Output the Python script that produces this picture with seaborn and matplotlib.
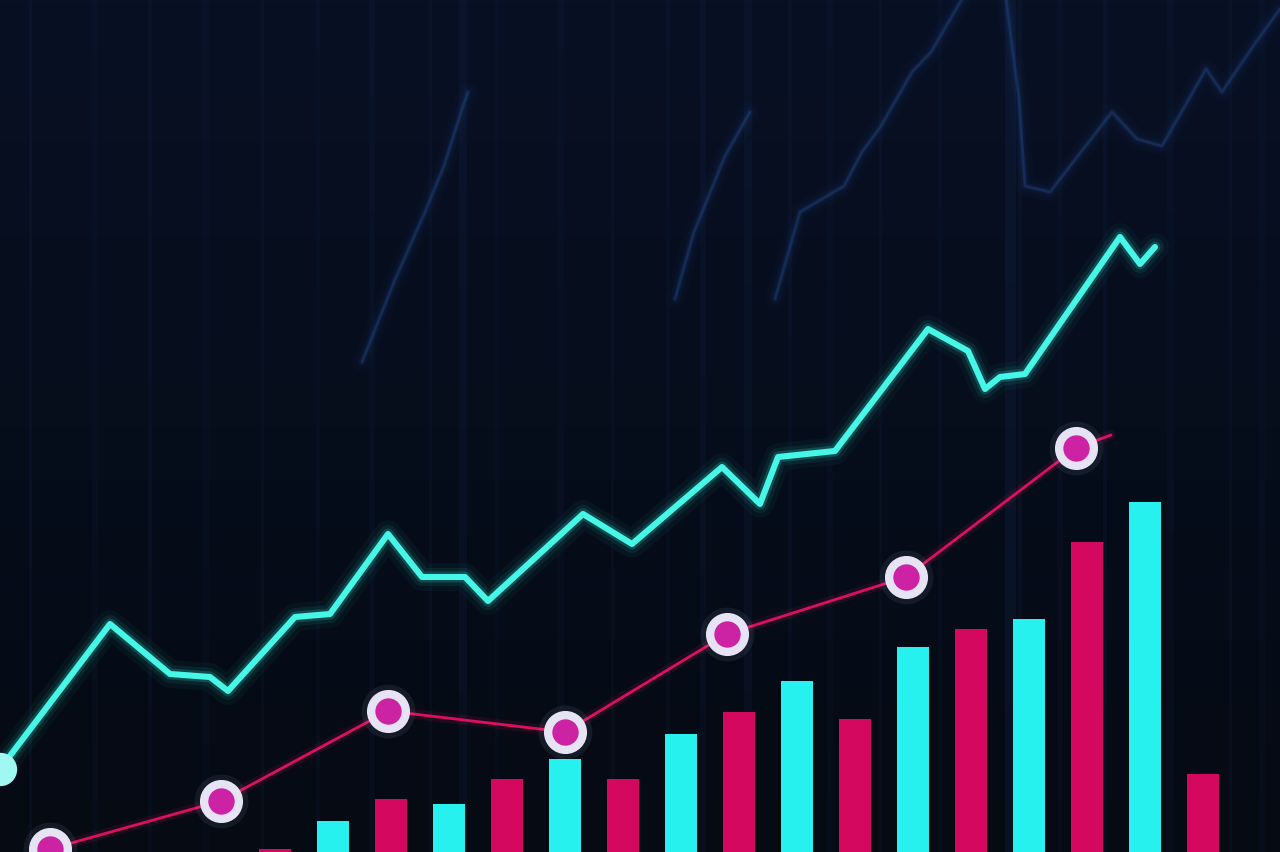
import numpy as np
import pandas as pd
import matplotlib
matplotlib.use("Agg")
import matplotlib.pyplot as plt
import seaborn as sns

W, H = 1280, 853

# ---------------- data ----------------
# bright cyan line: x position, height above the bottom edge
cyan_x = [0, 110, 170, 210, 228, 295, 330, 388, 422, 465, 488, 583, 632, 722,
          760, 778, 835, 928, 968, 985, 1000, 1025, 1120, 1140, 1155]
cyan_y = [83, 228, 178, 175, 161, 235, 238, 318, 275, 275, 251, 338, 308, 385,
          348, 395, 401, 523, 501, 463, 475, 478, 615, 588, 605]

# crimson line with round markers
pink_x = [50, 221, 388, 565, 727, 906, 1076, 1111]
pink_y = [3, 51, 141, 120, 218, 275, 404, 417]
n_markers = 7

# bars (index, height, series)
bar_heights = [3, 31, 53, 48, 73, 93, 73, 118, 140, 171, 133, 205, 223, 233, 310, 350, 78]
bar_series = ["pink", "cyan", "pink", "cyan", "pink", "cyan", "pink", "cyan", "pink",
              "cyan", "pink", "cyan", "pink", "cyan", "pink", "cyan", "pink"]

# faint background "ghost" lines
ghost1_x = [362, 394, 425, 444, 462, 468]
ghost1_y = [490, 570, 640, 686, 743, 760]
ghost2_x = [675, 694, 725, 750]
ghost2_y = [553, 620, 696, 740]
ghost3_x = [775, 800, 844, 862, 881, 912, 931, 962]
ghost3_y = [553, 640, 666, 700, 726, 780, 800, 853]
ghost4_x = [1006, 1019, 1025, 1050, 1112, 1137, 1162, 1206, 1222, 1256, 1280]
ghost4_y = [853, 753, 666, 660, 740, 713, 706, 783, 760, 810, 843]

# faint vertical streaks (x position, width in points, opacity)
streak_x = [30, 95, 150, 205, 262, 318, 372, 430, 463, 497, 560, 612, 668, 703, 748,
            790, 830, 880, 940, 1010, 1020, 1060, 1105, 1170, 1230, 1262]
streak_w = [2, 4, 3, 5, 2, 3, 4, 2, 6, 3, 5, 2, 3, 4, 6, 3, 4, 2, 3, 8, 3, 4, 3, 5, 2, 4]
streak_a = [0.25, 0.15, 0.2, 0.12, 0.2, 0.15, 0.18, 0.2, 0.22, 0.12, 0.15, 0.2, 0.15,
            0.2, 0.22, 0.18, 0.15, 0.2, 0.15, 0.3, 0.2, 0.15, 0.2, 0.15, 0.2, 0.15]

# ---------------- figure ----------------
sns.set_theme(style="dark")
fig = plt.figure(figsize=(12.8, 8.53), dpi=100)
fig.patch.set_facecolor("#060b17")

bg = fig.add_axes([0, 0, 1, 1], zorder=0)
axb = fig.add_axes([0, 0, 1, 1], zorder=1)
ax = fig.add_axes([0, 0, 1, 1], zorder=2)
for a in (bg, axb, ax):
    a.set_axis_off()
    a.patch.set_visible(False)

# background gradient + streaks + ghost lines
grad = np.linspace(0, 1, 256).reshape(-1, 1)
bg_cmap = matplotlib.colors.LinearSegmentedColormap.from_list(
    "bgc", ["#050a13", "#060d1b", "#081024"])
bg.imshow(grad, aspect="auto", cmap=bg_cmap, extent=[0, W, 0, H], origin="lower", zorder=0)
for sx, sw, sa in zip(streak_x, streak_w, streak_a):
    bg.axvline(sx, color="#13264a", lw=sw, alpha=sa, zorder=1)

for gx, gy in [(ghost1_x, ghost1_y), (ghost2_x, ghost2_y),
               (ghost3_x, ghost3_y), (ghost4_x, ghost4_y)]:
    for lw, al in [(14, 0.05), (8, 0.08), (4.5, 0.15)]:
        sns.lineplot(x=gx, y=gy, sort=False, ax=bg, color="#1e3f7c", lw=lw, alpha=al, zorder=2)
    sns.lineplot(x=gx, y=gy, sort=False, ax=bg, color="#2a4f8f", lw=2.0, alpha=0.35, zorder=3)
bg.set_xlim(0, W)
bg.set_ylim(0, H)
bg.set_axis_off()

# bars
bars = pd.DataFrame({"idx": list(range(len(bar_heights))),
                     "h": bar_heights, "s": bar_series})
sns.barplot(data=bars, x="idx", y="h", hue="s", dodge=False, width=0.55,
            palette={"cyan": "#26f1ee", "pink": "#d4085f"}, ax=axb,
            legend=False, saturation=1, linewidth=0)
# index i sits at pixel 275 + 58 i
axb.set_xlim((0 - 275) / 58, (W - 275) / 58)
axb.set_ylim(0, H)
axb.set_axis_off()

# crimson line with markers
sns.lineplot(x=pink_x, y=pink_y, sort=False, ax=ax, color="#e0115f", lw=7, alpha=0.12)
sns.lineplot(x=pink_x, y=pink_y, sort=False, ax=ax, color="#dc1060", lw=2.0)
sns.scatterplot(x=pink_x[:n_markers], y=pink_y[:n_markers], ax=ax, s=1500,
                color="#cfd8f0", alpha=0.08, linewidth=0, zorder=4)
ax.plot(pink_x[:n_markers], pink_y[:n_markers], ls="none", marker="o", ms=25, mew=6,
        mfc="#cc22a4", mec="#e6e4f4", zorder=5)

# bright cyan glowing line
for lw, al in [(20, 0.04), (13, 0.08), (8, 0.18)]:
    sns.lineplot(x=cyan_x, y=cyan_y, sort=False, ax=ax, color="#2ef2e0", lw=lw,
                 alpha=al, zorder=6)
sns.lineplot(x=cyan_x, y=cyan_y, sort=False, ax=ax, color="#46f6e6", lw=4.4, zorder=7)
ax.plot(cyan_x[:1], cyan_y[:1], ls="none", marker="o", ms=24, mew=0,
        mfc="#9ff8f2", zorder=8)

ax.set_xlim(0, W)
ax.set_ylim(0, H)
ax.set_axis_off()

fig.savefig("out.png", dpi=100, facecolor=fig.get_facecolor())
